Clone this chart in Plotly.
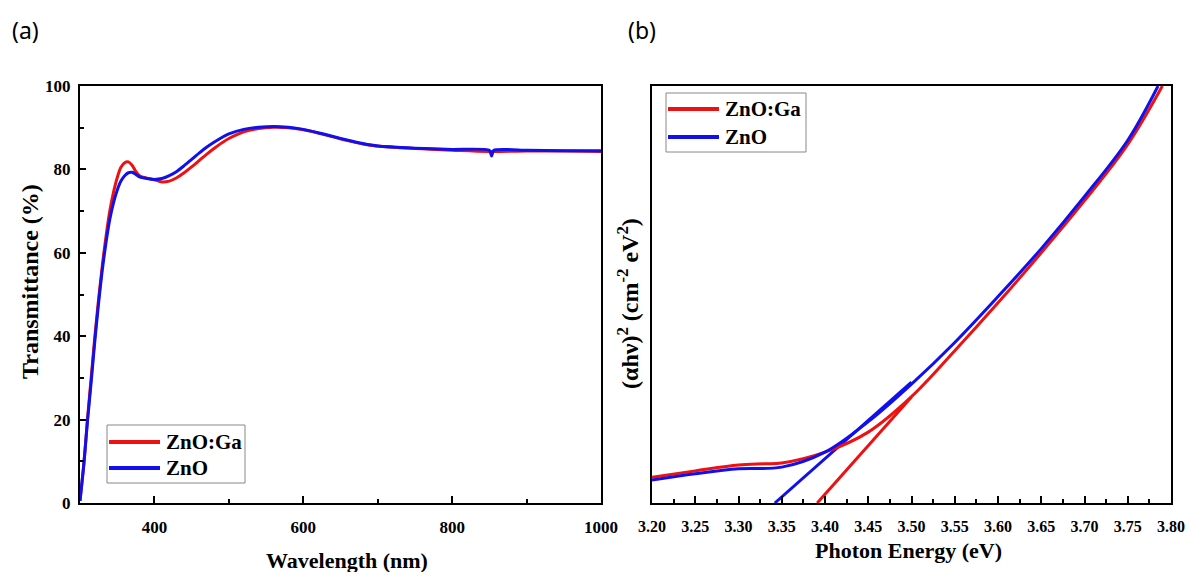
import plotly.graph_objects as go

# ---------------- Panel (a): transmittance ----------------
wl_ga = [300, 305, 310, 315, 320, 325, 330, 335, 340, 345, 350, 355, 360, 365, 370, 375, 380,
         390, 400, 410, 420, 430, 440, 450, 460, 470, 480, 490, 500, 520, 540, 560, 580, 600,
         620, 640, 660, 680, 700, 750, 800, 850, 900, 950, 1000]
t_ga = [0.5, 9, 20, 30, 40, 49, 57, 64, 70, 74.5, 78, 80.5, 81.6, 81.8, 81.0, 79.5, 78.5,
        77.9, 77.5, 77.0, 77.2, 78.0, 79.2, 80.6, 82.1, 83.6, 85.0, 86.3, 87.4, 89.0, 89.8, 90.1, 90.0, 89.5,
        88.7, 87.8, 86.9, 86.1, 85.6, 85.0, 84.6, 84.3, 84.4, 84.4, 84.3]

wl_zno = [300, 305, 310, 315, 320, 325, 330, 335, 340, 345, 350, 355, 360, 365, 370, 375, 380,
          390, 400, 410, 420, 430, 440, 450, 460, 470, 480, 490, 500, 520, 540, 560, 580, 600,
          620, 640, 660, 680, 700, 750, 800, 850, 853, 856, 900, 950, 1000]
t_zno = [0.5, 9, 19.5, 29, 39, 48, 56, 62.5, 68, 72, 75, 77.2, 78.5, 79.2, 79.3, 78.8, 78.2,
         77.8, 77.6, 77.8, 78.5, 79.5, 80.9, 82.4, 83.9, 85.3, 86.5, 87.6, 88.5, 89.6, 90.1, 90.3, 90.1, 89.6,
         88.8, 87.9, 87.0, 86.2, 85.6, 85.1, 84.8, 84.6, 83.2, 84.6, 84.6, 84.5, 84.5]

# ---------------- Panel (b): Tauc plot (arbitrary units) ----------------
e_ga = [3.20, 3.25, 3.30, 3.33, 3.35, 3.40, 3.45, 3.50, 3.55, 3.60, 3.65, 3.70, 3.75, 3.79]
a_ga = [6.2, 7.7, 9.1, 9.4, 9.6, 12.2, 17.0, 25.5, 36.5, 48.0, 60.0, 72.5, 86.0, 100]

e_zno = [3.20, 3.25, 3.30, 3.35, 3.40, 3.45, 3.50, 3.55, 3.60, 3.65, 3.70, 3.75, 3.785]
a_zno = [5.5, 7.0, 8.2, 8.6, 12.2, 19.5, 28.5, 38.5, 49.5, 61.0, 73.5, 87.0, 100]

# linear fits (band-gap extrapolation)
fit_e_ga = [3.391, 3.50]
fit_a_ga = [0, 25.4]
fit_e_zno = [3.342, 3.50]
fit_a_zno = [0, 29.0]

legend_names = ["ZnO:Ga", "ZnO"]

RED = "#ee1111"
BLUE = "#1010ee"
SERIF = "Liberation Serif"
W, H = 1190, 572

fig = go.Figure()

fig.add_trace(go.Scatter(x=wl_ga, y=t_ga, mode="lines", name=legend_names[0], showlegend=False,
                         line=dict(color=RED, width=3, shape="spline"), xaxis="x", yaxis="y"))
fig.add_trace(go.Scatter(x=wl_zno, y=t_zno, mode="lines", name=legend_names[1], showlegend=False,
                         line=dict(color=BLUE, width=3, shape="spline", smoothing=0.6), xaxis="x", yaxis="y"))

fig.add_trace(go.Scatter(x=fit_e_ga, y=fit_a_ga, mode="lines", showlegend=False, line=dict(color=RED, width=3),
                         xaxis="x2", yaxis="y2"))
fig.add_trace(go.Scatter(x=fit_e_zno, y=fit_a_zno, mode="lines", showlegend=False, line=dict(color=BLUE, width=3),
                         xaxis="x2", yaxis="y2"))
fig.add_trace(go.Scatter(x=e_ga, y=a_ga, mode="lines", name=legend_names[0], showlegend=False,
                         line=dict(color=RED, width=3, shape="spline"), xaxis="x2", yaxis="y2"))
fig.add_trace(go.Scatter(x=e_zno, y=a_zno, mode="lines", name=legend_names[1], showlegend=False,
                         line=dict(color=BLUE, width=3, shape="spline"), xaxis="x2", yaxis="y2"))

axcommon = dict(showline=True, linewidth=2, linecolor="black", mirror=True, showgrid=False, zeroline=False,
                tickcolor="black", tickwidth=2, automargin=False)

YB = 1 - 503 / H
YT = 1 - 86 / H


def px(x):
    return x / W


def py(y):
    return 1 - y / H


shapes = []
annotations = []


def add_legend(x0, y0, x1, y1, rows):
    shapes.append(dict(type="rect", xref="paper", yref="paper", x0=px(x0), x1=px(x1), y0=py(y0), y1=py(y1),
                       line=dict(color="#888888", width=1), fillcolor="white", layer="above"))
    for (yy, color, name) in rows:
        shapes.append(dict(type="line", xref="paper", yref="paper", x0=px(x0 + 2), x1=px(x0 + 53), y0=py(yy), y1=py(yy),
                           line=dict(color=color, width=4), layer="above"))
        annotations.append(dict(text=name, x=px(x0 + 57), y=py(yy), xref="paper", yref="paper", xanchor="left",
                                yanchor="middle", showarrow=False,
                                font=dict(family=SERIF, size=21, color="black", weight="bold")))


add_legend(107, 425, 245, 483, [(442, RED, legend_names[0]), (468, BLUE, legend_names[1])])
add_legend(666, 93, 806, 152, [(109, RED, legend_names[0]), (137, BLUE, legend_names[1])])

annotations += [
    dict(text="(a)", x=px(10), y=py(30), xref="paper", yref="paper", xanchor="left", yanchor="middle",
         showarrow=False, font=dict(family="Noto Sans", size=23, color="black")),
    dict(text="(b)", x=px(626), y=py(30), xref="paper", yref="paper", xanchor="left", yanchor="middle",
         showarrow=False, font=dict(family="Noto Sans", size=23, color="black")),
    dict(text="Wavelength (nm)", x=px(347), y=py(560), xref="paper", yref="paper", xanchor="center",
         yanchor="middle", showarrow=False, font=dict(family=SERIF, size=22, color="black", weight="bold")),
    dict(text="Photon Energy (eV)", x=px(908), y=py(550), xref="paper", yref="paper", xanchor="center",
         yanchor="middle", showarrow=False, font=dict(family=SERIF, size=22, color="black", weight="bold")),
    dict(text="Transmittance (%)", x=px(30), y=py(282), xref="paper", yref="paper", xanchor="center",
         yanchor="middle", textangle=-90, showarrow=False, font=dict(family=SERIF, size=24, color="black", weight="bold")),
    dict(text="(αhν)<sup>2</sup> (cm<sup>-2</sup> eV<sup>2</sup>)", x=px(628), y=py(304), xref="paper", yref="paper",
         xanchor="center", yanchor="middle", textangle=-90, showarrow=False,
         font=dict(family=SERIF, size=24, color="black", weight="bold")),
]

fig.update_layout(
    width=W, height=H,
    margin=dict(l=0, r=0, t=0, b=0, autoexpand=False),
    paper_bgcolor="white", plot_bgcolor="white",
    xaxis=dict(domain=[px(80), px(601)], range=[300, 1000], tickvals=[400, 600, 800, 1000],
               ticks="inside", ticklen=7, ticklabelstandoff=8,
               tickfont=dict(family=SERIF, size=17, color="black", weight="bold"),
               minor=dict(tickvals=[500, 700, 900], ticks="inside", ticklen=4, tickcolor="black", tickwidth=2),
               anchor="y", **axcommon),
    yaxis=dict(domain=[YB, YT], range=[0, 100], dtick=20, ticks="inside", ticklen=6, ticklabelstandoff=4,
               tickfont=dict(family=SERIF, size=17, color="black", weight="bold"),
               minor=dict(dtick=10, ticks="inside", ticklen=4, tickcolor="black", tickwidth=2),
               anchor="x", **axcommon),
    xaxis2=dict(domain=[px(652), px(1171)], range=[3.20, 3.80], dtick=0.05, tick0=3.2, tickformat=".2f",
                ticks="inside", ticklen=7, ticklabelstandoff=8,
                tickfont=dict(family=SERIF, size=16, color="black", weight="bold"),
                minor=dict(dtick=0.025, tick0=3.2, ticks="inside", ticklen=4, tickcolor="black", tickwidth=2),
                anchor="y2", **axcommon),
    yaxis2=dict(domain=[YB, YT], range=[0, 100], showticklabels=False, ticks="", anchor="x2", **axcommon),
    shapes=shapes,
    annotations=annotations,
)

fig.write_html("out.html")
